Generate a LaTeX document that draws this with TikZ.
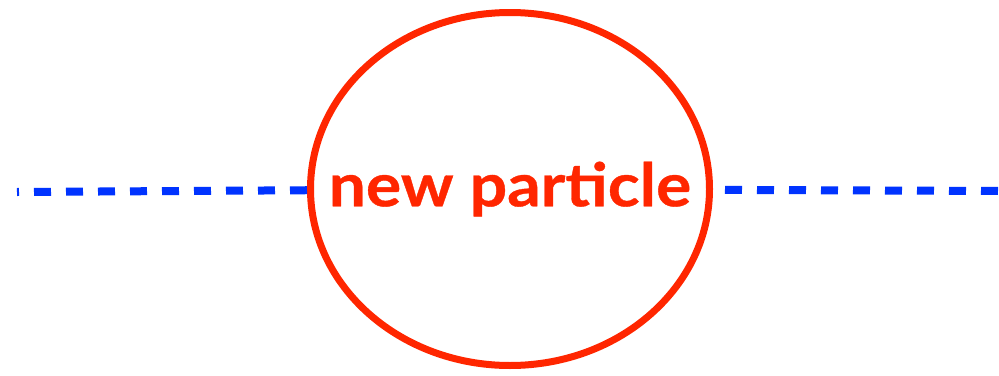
\documentclass[tikz,border=0pt]{standalone}
\usepackage{fontspec}
\newfontfamily\npfont[FakeStretch=1.1,BoldFeatures={FakeBold=0.6}]{Lato}
\usetikzlibrary{shapes.geometric}
\definecolor{NpRed}{RGB}{255,38,0}
\definecolor{NpBlue}{RGB}{0,51,255}
\tikzset{
  np/particle/.style={
    ellipse,
    draw=NpRed,
    line width=7pt,
    minimum width=399pt,
    minimum height=353pt,
    inner sep=0pt
  },
  np/name/.style={text=NpRed, inner sep=0pt, font=\npfont\fontsize{60}{66}\selectfont\bfseries},
  np/line/.style={draw=NpBlue, line width=8pt, dash pattern=on 17pt off 15pt}
}
\begin{document}
\begin{tikzpicture}[x=1pt,y=-1pt]
  \useasboundingbox (0,0) rectangle (999,375);
  \node[np/particle] (particle) at (510,189) {};
  \node[np/name] (name) at (particle.center) {new particle};
  \coordinate (in) at (17,192);
  \coordinate (out) at (999,191);
  \draw[np/line, dash phase=15pt] (in) -- (particle);
  \draw[np/line, dash phase=20pt] (particle) -- (out);
\end{tikzpicture}
\end{document}
